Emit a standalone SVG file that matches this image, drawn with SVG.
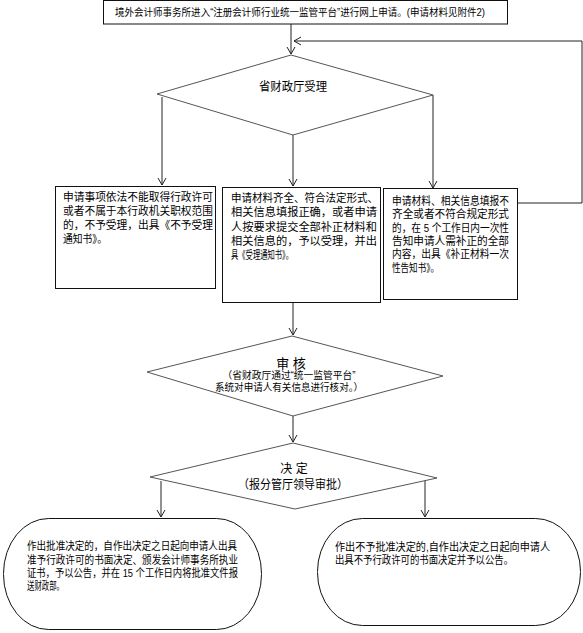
<svg xmlns="http://www.w3.org/2000/svg" width="583" height="633" viewBox="0 0 583 633">
<defs>
<marker id="arr" markerWidth="10" markerHeight="10" refX="8" refY="5" orient="auto" markerUnits="userSpaceOnUse">
<path d="M1,1 L8,5 L1,9" fill="none" stroke="#222" stroke-width="1"/>
</marker>
<style>
.box{fill:#fff;stroke:#111;stroke-width:1}
.dia{fill:#fff;stroke:#555;stroke-width:1}
.con{fill:none;stroke:#222;stroke-width:1}
text{font-family:"Liberation Sans","Noto Sans CJK SC",sans-serif;fill:#000}
.t{font-size:11px}
.s{font-size:10px}
</style>
</defs>
<g id="connectors">
<path class="con" d="M291,24 L291,54" marker-end="url(#arr)"/>
<path class="con" d="M518,203 L582,203 L582,41 L294,41" marker-end="url(#arr)"/>
<path class="con" d="M162,97 L162,185" marker-end="url(#arr)"/>
<path class="con" d="M293,135 L293,186" marker-end="url(#arr)"/>
<path class="con" d="M433,95 L433,188" marker-end="url(#arr)"/>
<path class="con" d="M293,303 L293,335" marker-end="url(#arr)"/>
<path class="con" d="M293,416 L293,442" marker-end="url(#arr)"/>
<path class="con" d="M161,481 L161,517" marker-end="url(#arr)"/>
<path class="con" d="M425,478 L425,517" marker-end="url(#arr)"/>
</g>
<g id="start">
<rect class="box" x="103.5" y="0.5" width="404" height="23.5"/>
<text class="s" x="115" y="16" textLength="370" lengthAdjust="spacingAndGlyphs">境外会计师事务所进入“注册会计师行业统一监管平台”进行网上申请。(申请材料见附件2)</text>
</g>
<g id="accept">
<polygon class="dia" points="291,55 433,95 293,135 157,94"/>
<text font-size="12" x="293" y="91" text-anchor="middle" textLength="68" lengthAdjust="spacingAndGlyphs">省财政厅受理</text>
</g>
<g id="reject">
<rect class="box" x="55.5" y="186.5" width="160" height="102"/>
<text class="t" x="63" y="201" textLength="150" lengthAdjust="spacingAndGlyphs">申请事项依法不能取得行政许可</text>
<text class="t" x="63" y="215" textLength="150" lengthAdjust="spacingAndGlyphs">或者不属于本行政机关职权范围</text>
<text class="t" x="63" y="229" textLength="150" lengthAdjust="spacingAndGlyphs">的，不予受理，出具《不予受理</text>
<text class="t" x="63" y="243" textLength="44" lengthAdjust="spacingAndGlyphs">通知书》。</text>
</g>
<g id="accepted">
<rect class="box" x="222.5" y="187.5" width="158" height="115"/>
<text class="t" x="231" y="202" textLength="147" lengthAdjust="spacingAndGlyphs">申请材料齐全、符合法定形式、</text>
<text class="t" x="231" y="216" textLength="146" lengthAdjust="spacingAndGlyphs">相关信息填报正确，或者申请</text>
<text class="t" x="231" y="231" textLength="146" lengthAdjust="spacingAndGlyphs">人按要求提交全部补正材料和</text>
<text class="t" x="231" y="245" textLength="146" lengthAdjust="spacingAndGlyphs">相关信息的，予以受理，并出</text>
<text class="t" x="231" y="259" textLength="62" lengthAdjust="spacingAndGlyphs">具《受理通知书》。</text>
</g>
<g id="supplement">
<rect class="box" x="383.5" y="188.5" width="134" height="111"/>
<text class="t" x="392" y="205" textLength="117" lengthAdjust="spacingAndGlyphs">申请材料、相关信息填报不</text>
<text class="t" x="392" y="218" textLength="117" lengthAdjust="spacingAndGlyphs">齐全或者不符合规定形式</text>
<text class="t" x="392" y="232" textLength="117" lengthAdjust="spacingAndGlyphs">的，在 5 个工作日内一次性</text>
<text class="t" x="392" y="245" textLength="117" lengthAdjust="spacingAndGlyphs">告知申请人需补正的全部</text>
<text class="t" x="392" y="258" textLength="117" lengthAdjust="spacingAndGlyphs">内容，出具《补正材料一次</text>
<text class="t" x="392" y="272" textLength="47" lengthAdjust="spacingAndGlyphs">性告知书》。</text>
</g>
<g id="review">
<polygon class="dia" points="292,336 443,376 293,416 147,372"/>
<text font-size="13" x="291" y="368" text-anchor="middle">审 核</text>
<text class="s" x="289" y="379" text-anchor="middle" textLength="133" lengthAdjust="spacingAndGlyphs">（省财政厅通过“统一监管平台”</text>
<text class="s" x="289" y="391" text-anchor="middle" textLength="148" lengthAdjust="spacingAndGlyphs">系统对申请人有关信息进行核对。）</text>
</g>
<g id="decision">
<polygon class="dia" points="293,443 437,478 295,509 150,477"/>
<text font-size="12" x="294" y="473" text-anchor="middle">决 定</text>
<text font-size="12" x="293" y="489" text-anchor="middle" textLength="110" lengthAdjust="spacingAndGlyphs">（报分管厅领导审批）</text>
</g>
<g id="approve">
<rect class="box" x="3.5" y="518.5" width="258" height="111" rx="45" ry="55"/>
<text class="t" x="27" y="550" textLength="210" lengthAdjust="spacingAndGlyphs">作出批准决定的，自作出决定之日起向申请人出具</text>
<text class="t" x="27" y="564" textLength="211" lengthAdjust="spacingAndGlyphs">准予行政许可的书面决定、颁发会计师事务所执业</text>
<text class="t" x="27" y="577" textLength="211" lengthAdjust="spacingAndGlyphs">证书，予以公告，并在 15 个工作日内将批准文件报</text>
<text class="t" x="27" y="590" textLength="37" lengthAdjust="spacingAndGlyphs">送财政部。</text>
</g>
<g id="deny">
<rect class="box" x="317.5" y="518.5" width="263" height="107" rx="45" ry="53"/>
<text class="t" x="335" y="551" textLength="215" lengthAdjust="spacingAndGlyphs">作出不予批准决定的,自作出决定之日起向申请人</text>
<text class="t" x="335" y="564" textLength="178" lengthAdjust="spacingAndGlyphs">出具不予行政许可的书面决定并予以公告。</text>
</g>
</svg>
